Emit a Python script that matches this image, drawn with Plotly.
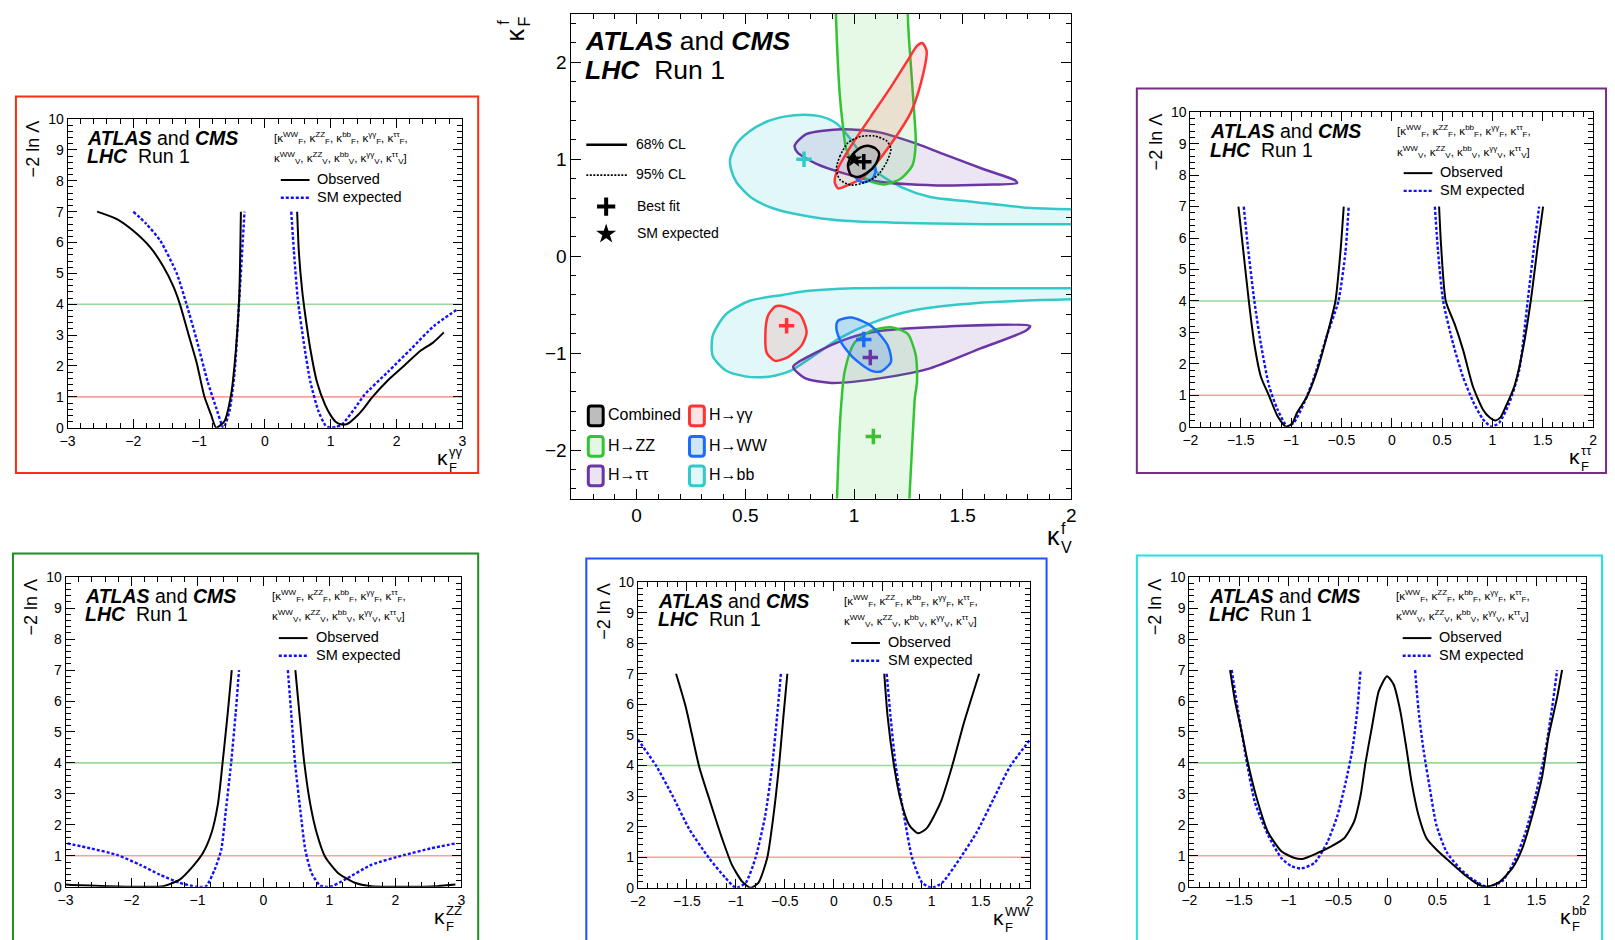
import plotly.graph_objects as go

W, H = 1615, 940
FONT = "Liberation Sans, Arial, Helvetica, sans-serif"

# ======================= DATA =======================
# --- 1D scans of -2 ln(Lambda); None separates the two branches ---
gg_obs_x = [-2.55, -2.25, -2.0, -1.745, -1.54, -1.39, -1.29, -1.17, -1.04, -0.92, -0.82, -0.74, -0.615, -0.515, -0.44, -0.39, -0.365, None,
            0.49, 0.515, 0.565, 0.615, 0.69, 0.79, 0.915, 1.0, 1.07, 1.15, 1.25, 1.37, 1.5, 1.62, 1.87, 2.12, 2.37, 2.55, 2.72]
gg_obs_y = [7.0, 6.76, 6.38, 5.85, 5.21, 4.57, 3.99, 3.09, 2.13, 1.01, 0.43, 0.0, 0.21, 1.06, 2.55, 4.26, 7.0, None,
            7.0, 5.74, 4.47, 3.62, 2.55, 1.49, 0.74, 0.40, 0.20, 0.11, 0.12, 0.32, 0.62, 0.96, 1.54, 2.02, 2.5, 2.75, 3.09]
gg_exp_x = [-2.0, -1.8, -1.59, -1.34, -1.19, -1.04, -0.87, -0.74, -0.63, -0.54, -0.46, -0.39, -0.31, None,
            0.40, 0.44, 0.50, 0.59, 0.69, 0.815, 0.92, 1.0, 1.08, 1.17, 1.37, 1.51, 1.87, 2.22, 2.57, 2.92]
gg_exp_y = [7.0, 6.6, 6.06, 5.0, 3.99, 2.87, 1.49, 0.64, 0.0, 0.53, 1.81, 4.15, 7.0, None,
            7.0, 5.74, 4.15, 2.77, 1.49, 0.53, 0.08, 0.0, 0.03, 0.1, 0.64, 1.06, 1.81, 2.55, 3.3, 3.83]

tt_obs_x = [-1.523, -1.48, -1.42, -1.365, -1.30, -1.217, -1.135, -1.05, -0.99, -0.94, -0.84, -0.74, -0.64, -0.56, -0.51, -0.477, None,
            0.47, 0.49, 0.536, 0.625, 0.71, 0.806, 0.905, 0.97, 1.03, 1.08, 1.135, 1.217, 1.30, 1.38, 1.45, 1.503]
tt_obs_y = [7.0, 5.75, 4.0, 2.63, 1.59, 0.97, 0.34, 0.0, 0.1, 0.45, 0.97, 1.8, 2.94, 3.99, 5.55, 7.0, None,
            7.0, 5.75, 4.0, 3.26, 2.42, 1.28, 0.55, 0.3, 0.2, 0.3, 0.66, 1.28, 2.42, 3.99, 5.75, 7.0]
tt_exp_x = [-1.47, -1.43, -1.365, -1.30, -1.217, -1.135, -1.036, -0.97, -0.87, -0.77, -0.64, -0.53, -0.46, -0.428, None,
            0.428, 0.46, 0.51, 0.61, 0.707, 0.806, 0.905, 0.99, 1.07, 1.168, 1.266, 1.35, 1.414, 1.464]
tt_exp_y = [7.0, 5.75, 4.0, 2.63, 1.28, 0.55, 0.0, 0.14, 0.76, 1.59, 2.94, 3.99, 5.55, 7.0, None,
            7.0, 5.55, 4.0, 2.63, 1.59, 0.81, 0.24, 0.0, 0.14, 0.76, 1.8, 4.0, 5.75, 7.0]

zz_obs_x = [-3.0, -2.92, -2.37, -1.87, -1.52, -1.27, -1.07, -0.92, -0.79, -0.69, -0.62, -0.54, -0.48, None,
            0.484, 0.544, 0.62, 0.71, 0.81, 0.935, 1.135, 1.386, 1.64, 2.14, 2.64, 2.91]
zz_obs_y = [0.07, 0.06, 0.02, 0.0, 0.02, 0.23, 0.66, 1.08, 1.72, 2.67, 3.99, 5.63, 7.0, None,
            7.0, 5.63, 3.99, 2.67, 1.72, 0.97, 0.44, 0.13, 0.02, 0.0, 0.02, 0.07]
zz_exp_x = [-2.97, -2.62, -2.22, -1.87, -1.57, -1.27, -1.02, -0.87, -0.74, -0.64, -0.57, -0.49, -0.42, -0.37, None,
            0.37, 0.42, 0.48, 0.56, 0.635, 0.73, 0.86, 1.01, 1.235, 1.637, 2.14, 2.54, 2.91]
zz_exp_y = [1.40, 1.24, 1.03, 0.71, 0.39, 0.13, 0.0, 0.02, 0.55, 1.19, 2.46, 3.99, 5.63, 7.0, None,
            7.0, 5.63, 3.99, 2.46, 1.19, 0.44, 0.04, 0.0, 0.23, 0.71, 1.03, 1.24, 1.40]

ww_obs_x = [-1.61, -1.51, -1.375, -1.26, -1.14, -1.04, -0.937, -0.85, -0.77, -0.68, -0.616, -0.56, -0.515, -0.474, None,
            0.515, 0.55, 0.616, 0.68, 0.77, 0.86, 0.95, 1.09, 1.207, 1.325, 1.484]
ww_obs_y = [7.0, 5.9, 3.97, 2.79, 1.61, 0.75, 0.21, 0.0, 0.16, 0.97, 2.36, 3.97, 5.58, 7.0, None,
            7.0, 5.58, 3.97, 2.9, 2.05, 1.78, 1.95, 2.79, 3.97, 5.36, 7.0]
ww_exp_x = [-2.0, -1.81, -1.645, -1.477, -1.274, -1.105, -1.0, -0.90, -0.80, -0.70, -0.63, -0.58, -0.54, None,
            0.54, 0.58, 0.633, 0.717, 0.80, 0.903, 1.0, 1.105, 1.29, 1.46, 1.63, 1.8, 2.0]
ww_exp_y = [4.85, 3.97, 3.0, 1.93, 0.97, 0.32, 0.0, 0.16, 0.97, 2.36, 3.97, 5.58, 7.0, None,
            7.0, 5.58, 3.97, 2.36, 0.97, 0.16, 0.0, 0.16, 0.97, 1.82, 2.9, 3.97, 4.83]

bb_obs_x = [-1.59, -1.54, -1.47, -1.41, -1.32, -1.21, -1.07, -0.94, -0.86, -0.71, -0.575, -0.44, -0.34, -0.275, -0.225, -0.16, -0.09,
            -0.008, 0.058, 0.125, 0.19, 0.24, 0.31, 0.39, 0.51, 0.64, 0.79, 0.92, 1.0, 1.12, 1.257, 1.357, 1.457, 1.557, 1.62, 1.707, 1.757]
bb_obs_y = [7.0, 6.0, 4.95, 4.0, 2.84, 1.78, 1.14, 0.93, 0.9, 1.09, 1.30, 1.57, 2.1, 2.94, 4.0, 5.16, 6.33,
            6.8, 6.54, 5.69, 4.42, 3.37, 2.3, 1.57, 1.14, 0.77, 0.35, 0.06, 0.0, 0.14, 0.61, 1.25, 2.3, 3.58, 4.85, 6.12, 7.0]
bb_exp_x = [-1.574, -1.51, -1.42, -1.34, -1.207, -1.074, -0.974, -0.874, -0.74, -0.607, -0.508, -0.425, -0.358, -0.308, -0.275, None,
            0.275, 0.31, 0.36, 0.425, 0.49, 0.59, 0.72, 0.855, 1.0, 1.157, 1.29, 1.39, 1.49, 1.59, 1.657, 1.707]
bb_exp_y = [7.0, 5.69, 4.0, 2.73, 1.67, 0.93, 0.67, 0.59, 0.77, 1.46, 2.3, 3.37, 4.42, 5.69, 7.0, None,
            7.0, 5.69, 4.42, 3.15, 1.99, 1.14, 0.61, 0.24, 0.0, 0.19, 0.93, 1.78, 2.94, 4.42, 5.8, 7.0]

levels = [1, 4]   # 68% and 95% CL thresholds of -2 ln Lambda

# --- 2D 68% CL contours in (kappa_V^f, kappa_F^f) ---
c_bb_up_x = [2.1, 1.8, 1.55, 1.35, 1.22, 1.11, 1.04, 0.98, 0.92, 0.85, 0.77, 0.68, 0.60, 0.52, 0.46, 0.43, 0.435, 0.46, 0.53, 0.62, 0.72, 0.85, 1.0, 1.3, 1.6, 2.1]
c_bb_up_y = [0.48, 0.50, 0.56, 0.61, 0.71, 0.86, 1.03, 1.22, 1.37, 1.44, 1.46, 1.44, 1.39, 1.29, 1.16, 1.0, 0.89, 0.76, 0.60, 0.50, 0.44, 0.39, 0.36, 0.34, 0.33, 0.33]
c_bb_lo_x = [2.1, 1.6, 1.0, 0.78, 0.67, 0.52, 0.41, 0.35, 0.35, 0.41, 0.50, 0.56, 0.64, 0.71, 0.82, 0.93, 1.08, 1.27, 1.58, 2.1]
c_bb_lo_y = [-0.33, -0.33, -0.33, -0.36, -0.40, -0.46, -0.60, -0.82, -1.03, -1.18, -1.24, -1.25, -1.23, -1.18, -1.02, -0.85, -0.69, -0.56, -0.48, -0.44]
c_tt_up_x = [0.727, 0.78, 0.946, 1.11, 1.27, 1.434, 1.60, 1.743, 1.75, 1.60, 1.38, 1.11, 0.946, 0.83, 0.74, 0.727]
c_tt_up_y = [1.14, 1.26, 1.31, 1.28, 1.175, 1.035, 0.895, 0.78, 0.754, 0.737, 0.73, 0.77, 0.86, 0.95, 1.07, 1.14]
c_tt_lo_x = [0.72, 0.82, 0.97, 1.124, 1.43, 1.81, 1.79, 1.58, 1.35, 1.124, 0.896, 0.774, 0.72]
c_tt_lo_y = [-1.14, -1.0, -0.85, -0.77, -0.724, -0.72, -0.77, -0.954, -1.157, -1.258, -1.308, -1.258, -1.14]
c_zz_up_x = [0.915, 0.919, 0.934, 0.949, 0.964, 1.0, 1.063, 1.139, 1.215, 1.269, 1.284, 1.276, 1.26, 1.25, 1.245]
c_zz_up_y = [2.7, 2.35, 1.68, 1.34, 1.106, 0.937, 0.785, 0.741, 0.80, 0.937, 1.173, 1.51, 2.017, 2.35, 2.7]
c_zz_lo_x = [0.92, 0.922, 0.938, 0.957, 1.0, 1.078, 1.17, 1.246, 1.284, 1.29, 1.28, 1.276, 1.255, 1.25]
c_zz_lo_y = [-2.7, -2.49, -1.63, -1.19, -0.90, -0.77, -0.734, -0.80, -1.02, -1.29, -1.46, -1.6, -2.49, -2.7]
c_gg_up_x = [1.314, 1.334, 1.307, 1.26, 1.185, 1.094, 1.033, 0.972, 0.926, 0.911, 0.926, 0.987, 1.078, 1.17, 1.246, 1.29, 1.314]
c_gg_up_y = [2.20, 2.12, 1.78, 1.476, 1.207, 0.937, 0.80, 0.734, 0.70, 0.768, 0.903, 1.14, 1.443, 1.747, 2.017, 2.17, 2.20]
c_gg_lo_x = [0.668, 0.751, 0.782, 0.759, 0.698, 0.637, 0.599, 0.592, 0.604, 0.637, 0.668]
c_gg_lo_y = [-0.514, -0.60, -0.785, -0.92, -1.038, -1.08, -1.0, -0.82, -0.615, -0.52, -0.514]
c_ww_up_x = [0.99, 1.0, 1.02, 1.05, 1.085, 1.10, 1.09, 1.05, 1.01, 0.99]
c_ww_up_y = [0.95, 0.85, 0.78, 0.765, 0.80, 0.88, 0.96, 1.0, 0.99, 0.95]
c_ww_lo_x = [0.926, 0.987, 1.078, 1.155, 1.17, 1.124, 1.078, 1.0, 0.94, 0.919, 0.926]
c_ww_lo_y = [-0.667, -0.633, -0.717, -0.92, -1.09, -1.19, -1.18, -1.055, -0.886, -0.75, -0.667]
c_comb68_x = [0.972, 0.99, 1.03, 1.063, 1.10, 1.116, 1.10, 1.06, 1.018, 0.985, 0.972]
c_comb68_y = [0.937, 1.04, 1.12, 1.14, 1.11, 1.055, 0.95, 0.86, 0.818, 0.84, 0.937]
c_comb95_x = [0.919, 0.935, 0.972, 1.03, 1.094, 1.15, 1.17, 1.15, 1.109, 1.05, 0.987, 0.935, 0.919]
c_comb95_y = [0.903, 1.03, 1.17, 1.235, 1.24, 1.19, 1.106, 0.97, 0.835, 0.76, 0.734, 0.79, 0.903]

# best-fit points: combined, bb, gamma-gamma, WW, tau-tau, ZZ
bf_x = [1.045, 0.77, 0.69, 1.045, 1.075, 1.089]
bf_y = [0.975, 1.0, -0.717, -0.86, -1.045, -1.86]
sm_x = [1.0]
sm_y = [1.0]

legend_labels = ["Combined", "H→γγ", "H→ZZ", "H→WW", "H→ττ", "H→bb"]

# ======================= STYLE / LAYOUT =======================
C_GG, C_ZZ, C_WW, C_TT, C_BB = "#ff3333", "#33c433", "#1a6cff", "#6a35a5", "#33c9c9"
F_GG = "rgba(255,60,60,0.13)"
F_ZZ = "rgba(60,200,60,0.13)"
F_WW = "rgba(40,130,230,0.22)"
F_TT = "rgba(110,60,170,0.13)"
F_BB = "rgba(60,205,205,0.15)"

def fx(px):
    return px / W

def fy(py):
    return 1 - py / H

fig = go.Figure()
ann = []
shapes = []

def text(px, py, s, size, xanchor="left", yanchor="middle", angle=0, color="black"):
    ann.append(dict(x=fx(px), y=fy(py), xref="paper", yref="paper", text=s, showarrow=False,
                    xanchor=xanchor, yanchor=yanchor, textangle=angle, borderpad=0,
                    font=dict(family=FONT, size=size, color=color)))

CW = {"γ": 0.52, "τ": 0.46, "W": 0.944, "Z": 0.611, "b": 0.556, "f": 0.3, "F": 0.611, "V": 0.667}

def kappa_title(right, cy, sup, sub, big, small):
    w = max(sum(CW[c] for c in sup), sum(CW[c] for c in sub)) * small
    xk = right - w - 1
    text(xk + 1, cy - 0.12 * big, "κ", big, xanchor="right")
    text(xk, cy - 0.42 * big, sup, small)
    text(xk, cy + 0.36 * big, sub, small)

def axis_style(rng, dt, mdt, fs, domain, anchor, tlen=9, mlen=5):
    return dict(range=rng, dtick=dt, tick0=0, domain=domain, anchor=anchor,
                showline=True, linecolor="black", linewidth=1, mirror="ticks",
                ticks="inside", ticklen=tlen, tickwidth=1, tickcolor="black",
                showgrid=False, zeroline=False,
                tickfont=dict(family=FONT, size=fs, color="black"),
                minor=dict(dtick=mdt, ticks="inside", ticklen=mlen, tickcolor="black", tickwidth=1, showgrid=False))

panels = [
    dict(n="", xr=[-3, 3], dt=1, mdt=0.2, area=(60, 113, 458, 427), box=(8, 90, 474, 473), bc="#ff2d10", sup="γγ",
         obs=(gg_obs_x, gg_obs_y), exp=(gg_exp_x, gg_exp_y)),
    dict(n="3", xr=[-2, 2], dt=0.5, mdt=0.1, area=(1192, 106, 1598, 426), box=(1138, 82, 1611, 473), bc="#7a2a88", sup="ττ",
         obs=(tt_obs_x, tt_obs_y), exp=(tt_exp_x, tt_exp_y)),
    dict(n="4", xr=[-3, 3], dt=1, mdt=0.2, area=(58, 579, 457, 894), box=(5, 555, 474, 950), bc="#1f8f1f", sup="ZZ",
         obs=(zz_obs_x, zz_obs_y), exp=(zz_exp_x, zz_exp_y)),
    dict(n="5", xr=[-2, 2], dt=0.5, mdt=0.1, area=(635, 584, 1030, 895), box=(583, 560, 1047, 950), bc="#2050ff", sup="WW",
         obs=(ww_obs_x, ww_obs_y), exp=(ww_exp_x, ww_exp_y)),
    dict(n="6", xr=[-2, 2], dt=0.5, mdt=0.1, area=(1191, 579, 1591, 894), box=(1138, 557, 1607, 950), bc="#22e2e2", sup="bb",
         obs=(bb_obs_x, bb_obs_y), exp=(bb_exp_x, bb_exp_y)),
]

layout_axes = {}
bracket1 = "[κ<sup>WW</sup><sub>F</sub>, κ<sup>ZZ</sup><sub>F</sub>, κ<sup>bb</sup><sub>F</sub>, κ<sup>γγ</sup><sub>F</sub>, κ<sup>ττ</sup><sub>F</sub>,"
bracket2 = "κ<sup>WW</sup><sub>V</sub>, κ<sup>ZZ</sup><sub>V</sub>, κ<sup>bb</sup><sub>V</sub>, κ<sup>γγ</sup><sub>V</sub>, κ<sup>ττ</sup><sub>V</sub>]"

for p in panels:
    L, T, R, B = p["area"]
    xa, ya = "x" + p["n"], "y" + p["n"]
    layout_axes["xaxis" + p["n"]] = axis_style(p["xr"], p["dt"], p["mdt"], 14, [fx(L), fx(R)], ya)
    layout_axes["yaxis" + p["n"]] = axis_style([0, 10], 1, 0.2, 14, [fy(B), fy(T)], xa)
    for lv, col in zip(levels, ["rgba(255,40,40,0.45)", "rgba(30,170,30,0.45)"]):
        fig.add_trace(go.Scatter(x=p["xr"], y=[lv, lv], mode="lines", line=dict(color=col, width=1.6),
                                 xaxis=xa, yaxis=ya, hoverinfo="skip"))
    fig.add_trace(go.Scatter(x=p["exp"][0], y=p["exp"][1], mode="lines", connectgaps=False,
                             line=dict(color="#1010ff", width=2.4, dash="3px,2px", shape="spline", smoothing=0.6),
                             xaxis=xa, yaxis=ya))
    fig.add_trace(go.Scatter(x=p["obs"][0], y=p["obs"][1], mode="lines", connectgaps=False,
                             line=dict(color="black", width=2, shape="spline", smoothing=0.6),
                             xaxis=xa, yaxis=ya))
    bx0, by0, bx1, by1 = p["box"]
    shapes.append(dict(type="rect", xref="paper", yref="paper", x0=fx(bx0), x1=fx(bx1), y0=fy(by1), y1=fy(by0),
                       line=dict(color=p["bc"], width=2)))
    text(L + 19, T + 19, "<b><i>ATLAS</i></b> and <b><i>CMS</i></b>", 19.5)
    text(L + 19, T + 38, "<b><i>LHC</i></b>\u00a0 Run 1", 19.5)
    text(L + 207, T + 19, bracket1, 11.5)
    text(L + 207, T + 40, bracket2, 11.5)
    shapes.append(dict(type="line", xref="paper", yref="paper", x0=fx(L + 215), x1=fx(L + 244), y0=fy(T + 62), y1=fy(T + 62),
                       line=dict(color="black", width=2)))
    shapes.append(dict(type="line", xref="paper", yref="paper", x0=fx(L + 215), x1=fx(L + 244), y0=fy(T + 80), y1=fy(T + 80),
                       line=dict(color="#1010ff", width=2.4, dash="3px,2px")))
    text(L + 251, T + 61, "Observed", 14.5)
    text(L + 251, T + 79, "SM expected", 14.5)
    text(L - 35, T, "−2 ln Λ", 18, xanchor="center", yanchor="top", angle=-90)
    kappa_title(R, B + 33, p["sup"], "F", 21, 13)

# ---------------- central 2D panel ----------------
CL, CT, CR, CB = 568, 6, 1072, 499
CXR, CYR = [-0.3, 2], [-2.5, 2.5]
layout_axes["xaxis2"] = axis_style(CXR, 0.5, 0.1, 19, [fx(CL), fx(CR)], "y2", tlen=10, mlen=5)
layout_axes["yaxis2"] = axis_style(CYR, 1, 0.2, 19, [fy(CB), fy(CT)], "x2", tlen=10, mlen=5)

def px2d(px, py):
    # pixel position -> central-axis coordinates (used only for legend glyphs)
    return (CXR[0] + (px - CL) / (CR - CL) * (CXR[1] - CXR[0]),
            CYR[1] - (py - CT) / (CB - CT) * (CYR[1] - CYR[0]))

contours = [
    (c_bb_up_x, c_bb_up_y, C_BB, F_BB), (c_bb_lo_x, c_bb_lo_y, C_BB, F_BB),
    (c_tt_up_x, c_tt_up_y, C_TT, F_TT), (c_tt_lo_x, c_tt_lo_y, C_TT, F_TT),
    (c_zz_up_x, c_zz_up_y, C_ZZ, F_ZZ), (c_zz_lo_x, c_zz_lo_y, C_ZZ, F_ZZ),
    (c_gg_up_x, c_gg_up_y, C_GG, F_GG), (c_gg_lo_x, c_gg_lo_y, C_GG, F_GG),
    (c_ww_up_x, c_ww_up_y, C_WW, F_WW), (c_ww_lo_x, c_ww_lo_y, C_WW, F_WW),
]
for cx, cy, lc, fc in contours:
    fig.add_trace(go.Scatter(x=cx, y=cy, mode="lines", fill="toself", fillcolor=fc,
                             line=dict(color=lc, width=2.5, shape="spline", smoothing=0.7),
                             xaxis="x2", yaxis="y2"))
fig.add_trace(go.Scatter(x=c_comb95_x, y=c_comb95_y, mode="lines",
                         line=dict(color="black", width=1.6, dash="2px,1.5px", shape="spline", smoothing=0.7),
                         xaxis="x2", yaxis="y2"))
fig.add_trace(go.Scatter(x=c_comb68_x, y=c_comb68_y, mode="lines", fill="toself", fillcolor="#bdbdbd",
                         line=dict(color="black", width=2.5, shape="spline", smoothing=0.7),
                         xaxis="x2", yaxis="y2"))
fig.add_trace(go.Scatter(x=sm_x, y=sm_y, mode="markers", marker=dict(symbol="star", size=13, color="black"),
                         xaxis="x2", yaxis="y2"))
bf_colors = ["black", C_BB, C_GG, C_WW, C_TT, C_ZZ]
fig.add_trace(go.Scatter(x=bf_x, y=bf_y, mode="markers",
                         marker=dict(symbol="cross-thin", size=11, color=bf_colors, line=dict(width=3.5, color=bf_colors)),
                         xaxis="x2", yaxis="y2"))

gx, gy1 = px2d(603, 202)
_, gy2 = px2d(603, 230)
fig.add_trace(go.Scatter(x=[gx], y=[gy1], mode="markers",
                         marker=dict(symbol="cross-thin", size=13, color="black", line=dict(width=4, color="black")),
                         xaxis="x2", yaxis="y2"))
fig.add_trace(go.Scatter(x=[gx], y=[gy2], mode="markers", marker=dict(symbol="star", size=15, color="black"),
                         xaxis="x2", yaxis="y2"))

text(581, 34, "<b><i>ATLAS</i></b> and <b><i>CMS</i></b>", 26.5)
text(581, 63, "<b><i>LHC</i></b>\u00a0 Run 1", 26.5)
shapes.append(dict(type="line", xref="paper", yref="paper", x0=fx(583), x1=fx(624), y0=fy(139), y1=fy(139),
                   line=dict(color="black", width=2.5)))
shapes.append(dict(type="line", xref="paper", yref="paper", x0=fx(583), x1=fx(624), y0=fy(170), y1=fy(170),
                   line=dict(color="black", width=1.6, dash="2px,1.5px")))
text(632, 138, "68% CL", 14)
text(632, 169, "95% CL", 14)
text(633, 201, "Best fit", 14)
text(633, 229, "SM expected", 14)

def rrect_path(x0, y0, x1, y1, r):
    X = lambda p: f"{fx(p):.5f}"
    Y = lambda p: f"{fy(p):.5f}"
    return (f"M {X(x0 + r)},{Y(y0)} L {X(x1 - r)},{Y(y0)} Q {X(x1)},{Y(y0)} {X(x1)},{Y(y0 + r)} "
            f"L {X(x1)},{Y(y1 - r)} Q {X(x1)},{Y(y1)} {X(x1 - r)},{Y(y1)} L {X(x0 + r)},{Y(y1)} "
            f"Q {X(x0)},{Y(y1)} {X(x0)},{Y(y1 - r)} L {X(x0)},{Y(y0 + r)} Q {X(x0)},{Y(y0)} {X(x0 + r)},{Y(y0)} Z")

leg_line = ["black", C_GG, C_ZZ, C_WW, C_TT, C_BB]
leg_fill = ["#bdbdbd", "#fde4e4", "#e4f6e4", "#cfe6f7", "#ece4f3", "#e2f7f7"]
for i, lab in enumerate(legend_labels):
    col, row = i % 2, i // 2
    bx = 585 if col == 0 else 687
    cyy = [415, 446, 476][row]
    shapes.append(dict(type="path", xref="paper", yref="paper", path=rrect_path(bx, cyy - 10, bx + 15, cyy + 10, 3),
                       line=dict(color=leg_line[i], width=3), fillcolor=leg_fill[i]))
    text(bx + 19, cyy - 1, lab, 16)

kappa_title(CR, 540, "f", "V", 25, 16)
text(511, 27, "κ", 25, xanchor="center", yanchor="middle", angle=-90)
text(500, 14, "f", 16, xanchor="center", yanchor="middle", angle=-90)
text(521, 14, "F", 16, xanchor="center", yanchor="middle", angle=-90)

fig.update_layout(
    width=W, height=H, margin=dict(l=0, r=0, t=0, b=0),
    paper_bgcolor="white", plot_bgcolor="white", showlegend=False,
    annotations=ann, shapes=shapes, font=dict(family=FONT, color="black"),
    **layout_axes,
)
fig.write_html("out.html")
